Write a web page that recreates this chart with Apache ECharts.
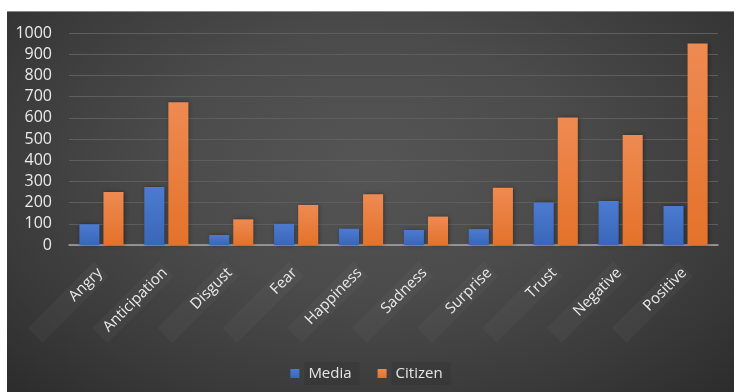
<!DOCTYPE html>
<html>
<head>
<meta charset="utf-8">
<script src="https://cdn.jsdelivr.net/npm/echarts@6/dist/echarts.min.js"></script>
<style>
html,body{margin:0;padding:0;background:#fff;width:734px;height:392px;overflow:hidden;}
#chart{position:absolute;left:7px;top:11px;width:727px;height:381px;
background:radial-gradient(ellipse at 50% 40%, #555555 0%, #4b4b4b 40%, #3a3a3a 75%, #2c2c2c 100%);
border-top:1px solid #8a8a8a;box-sizing:border-box;}
</style>
</head>
<body>
<div id="chart"></div>
<script>
const categories = ['Angry','Anticipation','Disgust','Fear','Happiness','Sadness','Surprise','Trust','Negative','Positive'];
const mediaValues = [98, 273, 47, 100, 77, 71, 75, 201, 208, 184];
const citizenValues = [250, 673, 121, 189, 239, 134, 270, 602, 519, 950];
const yTicks = {min: 0, max: 1000, interval: 100};

const chart = echarts.init(document.getElementById('chart'));
const font = '"Open Sans", "Noto Sans", sans-serif';
function grad(top, bottom){
  return new echarts.graphic.LinearGradient(0,0,0,1,[{offset:0,color:top},{offset:1,color:bottom}]);
}
chart.setOption({
  animation:false,
  backgroundColor:'transparent',
  textStyle:{fontFamily:font},
  grid:{left:62,right:16,top:21,bottom:147,containLabel:false},
  legend:{
    bottom:2,left:'center',itemWidth:9,itemHeight:9,itemGap:18,icon:'rect',
    textStyle:{color:'#e6e6e6',fontSize:15,fontFamily:font,backgroundColor:'rgba(0,0,0,0.08)',padding:[4,8,4,4]},
    data:['Media','Citizen']
  },
  xAxis:{
    type:'category',data:categories,
    axisLine:{lineStyle:{color:'#a6a6a6',width:1.5}},
    axisTick:{show:false},
    axisLabel:{rotate:45,interval:0,color:'#ebebeb',fontSize:15,fontFamily:font,margin:24,
      width:86,overflow:'none',align:'right',
      backgroundColor:'rgba(255,255,255,0.03)',padding:[3,2,3,6]}
  },
  yAxis:{
    type:'value',min:yTicks.min,max:yTicks.max,interval:yTicks.interval,
    axisLine:{show:false},axisTick:{show:false},
    splitLine:{lineStyle:{color:'#5e5e5e',width:1}},
    axisLabel:{color:'#ebebeb',fontSize:16,fontFamily:font,margin:17,formatter:function(v){return String(v);}}
  },
  series:[
    {name:'Media',type:'bar',data:mediaValues,barGap:'20%',barCategoryGap:'32%',
     itemStyle:{color:grad('#4b7bd0','#3a66b8'),shadowColor:'rgba(0,0,0,0.35)',shadowBlur:4,shadowOffsetX:1,shadowOffsetY:0}},
    {name:'Citizen',type:'bar',data:citizenValues,barGap:'20%',barCategoryGap:'32%',
     itemStyle:{color:grad('#ee8a52','#e4722a'),shadowColor:'rgba(0,0,0,0.35)',shadowBlur:4,shadowOffsetX:1,shadowOffsetY:0}}
  ],
  color:['#4472c4','#ed7d31']
});
</script>
</body>
</html>
